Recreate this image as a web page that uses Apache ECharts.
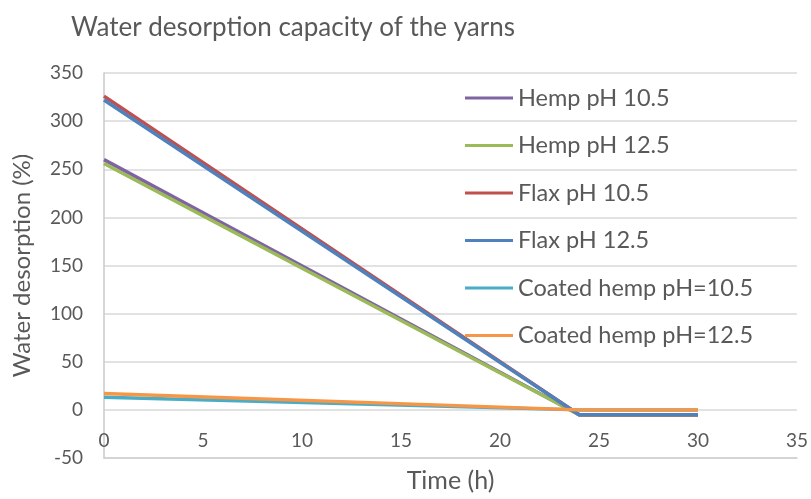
<!DOCTYPE html>
<html>
<head>
<meta charset="utf-8">
<script src="https://cdn.jsdelivr.net/npm/echarts@6/dist/echarts.min.js"></script>
<style>
  html, body { margin: 0; padding: 0; background: #fff; }
  #chart { width: 811px; height: 499px; }
</style>
</head>
<body>
<div id="chart"></div>
<script>
// Sampling times (h)
const times = [0, 24, 30];

// Water desorption (%) per yarn at each sampling time
const hempPH105 = [260, -5, -5];
const hempPH125 = [256, -5, -5];
const flaxPH105 = [326, -5, -5];
const flaxPH125 = [322, -5, -5];
const coatedHempPH105 = [13, 0, 0];
const coatedHempPH125 = [17, 0, 0];

const seriesNames = [
  'Hemp pH 10.5',
  'Hemp pH 12.5',
  'Flax pH 10.5',
  'Flax pH 12.5',
  'Coated hemp pH=10.5',
  'Coated hemp pH=12.5'
];
const seriesValues = [hempPH105, hempPH125, flaxPH105, flaxPH125, coatedHempPH105, coatedHempPH125];
const seriesColors = ['#8064a2', '#9bbb59', '#c0504d', '#4f81bd', '#4bacc6', '#f79646'];

const font = 'Lato, "Open Sans", sans-serif';
const textColor = '#595959';

const chart = echarts.init(document.getElementById('chart'));

chart.setOption({
  animation: false,
  backgroundColor: '#fff',
  title: {
    text: 'Water desorption capacity of the yarns',
    left: 66,
    top: 10,
    textStyle: { fontFamily: font, fontSize: 26, fontWeight: 'normal', color: textColor }
  },
  legend: {
    orient: 'vertical',
    left: 460,
    top: 81,
    icon: 'rect',
    itemWidth: 48,
    itemHeight: 3,
    itemGap: 23.5,
    data: seriesNames,
    textStyle: { fontFamily: font, fontSize: 23.5, color: textColor, lineHeight: 22 }
  },
  grid: { left: 104, right: 14, top: 73, bottom: 41, outerBoundsMode: 'none', containLabel: false },
  xAxis: {
    type: 'value',
    min: 0,
    max: 35,
    interval: 5,
    position: 'bottom',
    name: 'Time (h)',
    nameLocation: 'middle',
    nameGap: 10,
    nameTextStyle: { fontFamily: font, fontSize: 25, color: textColor, verticalAlign: 'top' },
    axisLine: { onZero: false, lineStyle: { color: '#d0d0d0', width: 1.5 } },
    axisTick: { show: false },
    axisLabel: { fontFamily: font, fontSize: 19, color: textColor, margin: -27 },
    splitLine: { show: false }
  },
  yAxis: {
    type: 'value',
    min: -50,
    max: 350,
    interval: 50,
    name: 'Water desorption (%)',
    nameLocation: 'middle',
    nameGap: 70,
    nameTextStyle: { fontFamily: font, fontSize: 24, color: textColor },
    axisLine: { show: true, lineStyle: { color: '#c8c8c8', width: 1.5 } },
    axisTick: { show: false },
    axisLabel: { fontFamily: font, fontSize: 19, color: textColor, margin: 21 },
    splitLine: { show: true, lineStyle: { color: '#d9d9d9', width: 1.5 } }
  },
  series: seriesNames.map((name, i) => ({
    name: name,
    type: 'line',
    symbol: 'none',
    color: seriesColors[i],
    lineStyle: { width: 3.5, color: seriesColors[i] },
    data: times.map((t, j) => [t, seriesValues[i][j]])
  }))
});
</script>
</body>
</html>
